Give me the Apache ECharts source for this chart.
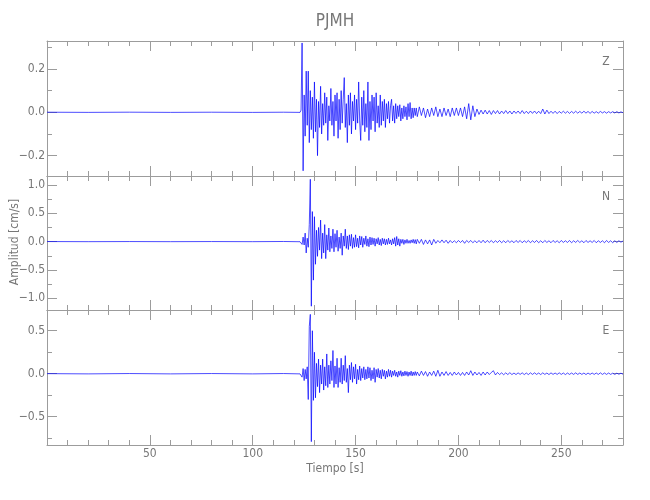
<!DOCTYPE html>
<html><head><meta charset="utf-8">
<script src="https://cdn.jsdelivr.net/npm/echarts@6/dist/echarts.min.js"></script>
<style>html,body{margin:0;padding:0;background:#fff}#c{width:650px;height:500px}</style>
</head><body><div id="c"></div><script>
// ---- axes / labels ----
const timeMin = 0, timeMax = 280;
const xMajorTicks = [50, 100, 150, 200, 250];
const xMinorTicks = [10,20,30,40,60,70,80,90,110,120,130,140,160,170,180,190,210,220,230,240,260,270];
const components = ['Z', 'N', 'E'];
const yRanges = [[-0.294, 0.329], [-1.207, 1.158], [-0.829, 0.741]];
const yMajorTicks = [[-0.2, 0, 0.2], [-1, -0.5, 0, 0.5, 1], [-0.5, 0, 0.5]];
const yMinorTicks = [[-0.1, 0.1, 0.3], [-0.75, -0.25, 0.25, 0.75], [-0.75, -0.25, 0.25]];
const titleText = 'PJMH';
const yName = 'Amplitud [cm/s]';
const xName = 'Tiempo [s]';

// ---- sampling of the traces (s) ----
const activeStart = 123.5, activeStep = 0.5;
const tailStart = 180, tailStep = 1;

// ---- Z component (cm/s) ----
const zPreTime = [0, 20, 40, 60, 80, 100, 115, 123];
const zPreVal  = [0.0004, -0.0004, 0.0005, -0.0004, 0.0004, -0.0005, 0.0004, -0.0004];
const zActive = [
 0.01, 0.32, -0.27, 0.08, -0.11, 0.19, -0.06, 0.19, -0.14, 0.10,
 -0.08, 0.07, -0.12, 0.14, -0.09, 0.06, -0.20, 0.05, -0.07, 0.12,
 -0.10, 0.04, -0.06, 0.09, -0.05, 0.07, -0.13, 0.03, -0.04, 0.11,
 -0.06, 0.05, -0.11, 0.08, -0.04, 0.09, -0.12, 0.06, -0.08, 0.10,
 -0.05, 0.06, 0.16, -0.07, 0.04, -0.14, 0.08, -0.06, 0.09, -0.10,
 0.05, -0.04, 0.08, -0.08, 0.06, -0.05, 0.14, -0.04, -0.13, 0.07,
 -0.06, 0.10, -0.09, 0.04, -0.07, 0.14, -0.13, 0.05, -0.08, 0.08,
 -0.04, 0.07, -0.09, 0.09, -0.05, 0.03, -0.07, 0.08, -0.06, 0.05,
 -0.04, 0.06, -0.07, 0.04, -0.03, 0.05, -0.05, 0.03, 0.06, -0.04,
 0.03, -0.05, 0.04, -0.03, 0.03, -0.02, 0.035, -0.04, 0.02, -0.03,
 0.03, -0.02, 0.025, -0.035, 0.04, -0.02, 0.045, -0.03, 0.02, -0.025,
 0.02, -0.015, 0.02
];
const zTail = [
 -0.02, 0.025, -0.015, 0.02, -0.025, 0.015, -0.02, 0.02, -0.015, 0.025,
 -0.02, 0.015, -0.02, 0.02, -0.015, 0.015, -0.02, 0.02, -0.015, 0.02,
 -0.015, 0.02, -0.02, 0.025, -0.03, 0.04, -0.035, 0.03, -0.02, 0.015,
 -0.01, 0.01, -0.008, 0.01, -0.008, 0.008, -0.01, 0.008, -0.006, 0.008,
 -0.008, 0.006, -0.006, 0.008, -0.006, 0.006, -0.008, 0.006, -0.005, 0.006,
 -0.006, 0.008, -0.006, 0.005, -0.006, 0.006, -0.005, 0.006, -0.006, 0.005,
 -0.006, 0.015, -0.008, 0.01, -0.006, 0.005, -0.005, 0.005, -0.006, 0.004,
 -0.004, 0.005, -0.004, 0.004, -0.005, 0.004, -0.004, 0.005, -0.004, 0.004,
 -0.004, 0.005, -0.004, 0.004, -0.005, 0.004, -0.004, 0.003, -0.004, 0.004,
 -0.003, 0.003, -0.004, 0.003, -0.003, 0.003, -0.003, 0.003, -0.003, 0.002,
 -0.002
];

// ---- N component (cm/s) ----
const nPreTime = [0, 20, 40, 60, 80, 100, 115, 123];
const nPreVal  = [0.001, -0.001, 0.001, -0.001, 0.001, -0.001, 0.002, -0.002];
const nActive = [
 0.02, -0.05, 0.08, -0.06, 0.15, -0.20, 0.06, -0.10, 0.30, 1.10,
 -1.14, 0.53, -0.68, 0.44, -0.40, 0.20, -0.26, 0.25, -0.15, 0.38,
 -0.30, 0.15, -0.20, 0.30, -0.30, 0.12, -0.15, 0.24, -0.18, 0.10,
 -0.12, 0.22, -0.18, 0.14, -0.10, 0.20, -0.17, 0.08, -0.12, 0.15,
 -0.24, 0.10, -0.08, 0.22, -0.12, 0.10, -0.14, 0.12, -0.08, 0.13,
 -0.12, 0.07, -0.10, 0.12, -0.09, 0.06, -0.11, 0.10, -0.06, 0.09,
 -0.10, 0.06, -0.05, 0.10, -0.08, 0.05, -0.09, 0.08, -0.06, 0.07,
 -0.05, 0.06, -0.08, 0.05, -0.04, 0.07, -0.06, 0.04, -0.07, 0.06,
 -0.04, 0.05, -0.06, 0.04, -0.05, 0.06, -0.04, 0.03, -0.06, 0.05,
 -0.04, 0.07, -0.08, 0.09, -0.06, 0.05, -0.08, 0.04, -0.03, 0.04,
 -0.05, 0.03, -0.03, 0.04, -0.03, 0.02, -0.03, 0.03, -0.02, 0.04,
 -0.03, 0.035, -0.04
];
const nTail = [
 0.04, -0.03, 0.04, -0.05, 0.03, -0.04, 0.03, -0.06, 0.04, -0.03,
 0.02, -0.02, 0.03, -0.02, 0.025, -0.03, 0.02, -0.02, 0.015, -0.02,
 0.02, -0.015, 0.02, -0.03, 0.02, -0.015, 0.02, -0.02, 0.015, -0.02,
 0.02, -0.02, 0.025, -0.02, 0.02, -0.015, 0.02, -0.02, 0.015, -0.015,
 0.02, -0.02, 0.015, -0.02, 0.02, -0.015, 0.015, -0.02, 0.02, -0.015,
 0.02, -0.02, 0.015, -0.015, 0.02, -0.02, 0.015, -0.015, 0.02, -0.02,
 0.015, -0.02, 0.02, -0.015, 0.015, -0.02, 0.02, -0.015, 0.015, -0.02,
 0.02, -0.015, 0.015, -0.015, 0.02, -0.02, 0.015, -0.015, 0.02, -0.015,
 0.015, -0.02, 0.02, -0.015, 0.015, -0.015, 0.02, -0.02, 0.015, -0.015,
 0.015, -0.02, 0.02, -0.015, 0.015, -0.02, 0.015, -0.015, 0.015, -0.01,
 0.01
];

// ---- E component (cm/s) ----
const ePreTime = [0, 20, 40, 60, 80, 100, 115, 123];
const ePreVal  = [0.001, -0.002, 0.002, -0.002, 0.002, -0.002, 0.002, -0.002];
const eActive = [
 0.02, -0.04, 0.06, -0.08, 0.05, -0.06, 0.08, -0.30, 0.55, 0.69,
 -0.79, 0.50, -0.31, 0.25, -0.28, 0.12, -0.15, 0.17, -0.22, 0.10,
 -0.12, 0.17, -0.19, 0.08, -0.14, 0.23, -0.16, 0.10, -0.12, 0.15,
 -0.08, 0.27, -0.16, 0.09, -0.12, 0.18, -0.16, 0.07, -0.10, 0.18,
 -0.12, 0.10, -0.08, 0.21, -0.10, 0.06, -0.22, 0.10, -0.07, 0.13,
 -0.10, 0.08, -0.06, 0.11, -0.12, 0.05, -0.07, 0.09, -0.08, 0.06,
 -0.05, 0.08, -0.07, 0.05, -0.06, 0.08, -0.05, 0.07, -0.08, 0.04,
 -0.06, 0.07, -0.10, 0.05, -0.04, 0.06, -0.05, 0.04, -0.06, 0.05,
 -0.03, 0.04, -0.06, 0.03, -0.04, 0.05, -0.03, 0.04, -0.04, 0.03,
 -0.02, 0.04, -0.03, 0.02, -0.04, 0.03, -0.02, 0.035, -0.03, 0.02,
 -0.025, 0.03, -0.02, 0.025, -0.03, 0.02, -0.02, 0.03, -0.025, 0.02,
 -0.02, 0.025, -0.02
];
const eTail = [
 0.02, -0.025, 0.03, -0.02, 0.025, -0.03, 0.02, -0.02, 0.03, -0.03,
 0.04, -0.03, 0.02, -0.02, 0.025, -0.02, 0.015, -0.02, 0.02, -0.015,
 0.015, -0.02, 0.015, -0.02, 0.02, -0.015, 0.035, -0.02, 0.02, -0.015,
 0.015, -0.02, 0.02, -0.015, 0.02, -0.01, 0.015, 0.035, -0.015, 0.015,
 -0.01, 0.01, -0.012, 0.01, -0.01, 0.012, -0.01, 0.008, -0.01, 0.01,
 -0.008, 0.01, -0.01, 0.008, -0.01, 0.01, -0.008, 0.01, -0.008, 0.008,
 -0.01, 0.01, -0.008, 0.008, -0.01, 0.01, -0.008, 0.008, -0.008, 0.01,
 -0.008, 0.008, -0.01, 0.008, -0.008, 0.008, -0.008, 0.01, -0.008, 0.008,
 -0.008, 0.008, -0.01, 0.008, -0.008, 0.008, -0.008, 0.008, -0.008, 0.01,
 -0.008, 0.008, -0.008, 0.008, -0.008, 0.006, -0.008, 0.006, -0.006, 0.006,
 -0.006
];

function buildTrace(preT, preV, act, tail) {
  const d = [];
  preT.forEach((t, i) => d.push([t, preV[i]]));
  act.forEach((v, i) => d.push([activeStart + i * activeStep, v]));
  tail.forEach((v, i) => d.push([tailStart + i * tailStep, v]));
  return d;
}
const traces = [
  buildTrace(zPreTime, zPreVal, zActive, zTail),
  buildTrace(nPreTime, nPreVal, nActive, nTail),
  buildTrace(ePreTime, ePreVal, eActive, eTail)
];

// ---- style ----
const frameColor = '#9c9c9c', textColor = '#777777', traceColor = '#0000ff';
const font = "'Liberation Sans Narrow','DejaVu Sans Condensed','Liberation Sans',sans-serif";
const gridTops = [41, 176, 310], gridBottoms = [176, 310, 445];
const fmt = v => (Math.abs(v) < 1e-9 ? '0.0' : v.toFixed(1)).replace('-', '\u2212');

const grids = [], xAxes = [], yAxes = [], series = [];
for (let g = 0; g < 3; g++) {
  grids.push({ left: 47, right: 27, top: gridTops[g], height: gridBottoms[g] - gridTops[g], containLabel: false });
  const mkX = (pos, major, lab) => ({
    type: 'value', gridIndex: g, position: pos, min: timeMin, max: timeMax,
    axisLine: { show: major, onZero: false, lineStyle: { color: frameColor, width: 1 } },
    axisTick: { show: true, inside: true, length: major ? 10 : 5, customValues: major ? xMajorTicks : xMinorTicks, lineStyle: { color: frameColor } },
    axisLabel: { show: lab, customValues: xMajorTicks, margin: 3, color: textColor, fontFamily: font, fontSize: 12 },
    splitLine: { show: false }
  });
  xAxes.push(mkX('bottom', true, g === 2), mkX('bottom', false, false), mkX('top', true, false), mkX('top', false, false));
  const mkY = (pos, major, lab) => ({
    type: 'value', gridIndex: g, position: pos, min: yRanges[g][0], max: yRanges[g][1],
    axisLine: { show: major, onZero: false, lineStyle: { color: frameColor, width: 1 } },
    axisTick: { show: true, inside: true, length: major ? 10 : 5, customValues: major ? yMajorTicks[g] : yMinorTicks[g], lineStyle: { color: frameColor } },
    axisLabel: { show: lab, customValues: yMajorTicks[g], margin: 2, color: textColor, fontFamily: font, fontSize: 12, formatter: fmt },
    splitLine: { show: false }
  });
  yAxes.push(mkY('left', true, true), mkY('left', false, false), mkY('right', true, false), mkY('right', false, false));
  series.push({
    type: 'line', name: components[g], xAxisIndex: g * 4, yAxisIndex: g * 4,
    data: traces[g], showSymbol: false, symbol: 'none', silent: true, clip: true,
    lineStyle: { color: traceColor, width: 0.7 }, animation: false
  });
}

const graphics = [
  { type: 'text', x: 335, y: 22, style: { text: titleText, fill: textColor, font: '17px ' + font, textAlign: 'center', textVerticalAlign: 'middle' } },
  { type: 'text', x: 15, y: 242, rotation: Math.PI / 2, style: { text: yName, fill: textColor, font: '12px ' + font, textAlign: 'center', textVerticalAlign: 'middle' } },
  { type: 'text', x: 335, y: 469, style: { text: xName, fill: textColor, font: '12px ' + font, textAlign: 'center', textVerticalAlign: 'middle' } }
];
const labelYs = [62, 197, 331];
components.forEach((c, i) => graphics.push({ type: 'text', x: 606, y: labelYs[i], style: { text: c, fill: textColor, font: '12px ' + font, textAlign: 'center', textVerticalAlign: 'middle' } }));

const chart = echarts.init(document.getElementById('c'), null, { renderer: 'canvas' });
chart.setOption({
  animation: false,
  backgroundColor: '#ffffff',
  grid: grids, xAxis: xAxes, yAxis: yAxes, series: series,
  graphic: graphics
});
</script></body></html>
